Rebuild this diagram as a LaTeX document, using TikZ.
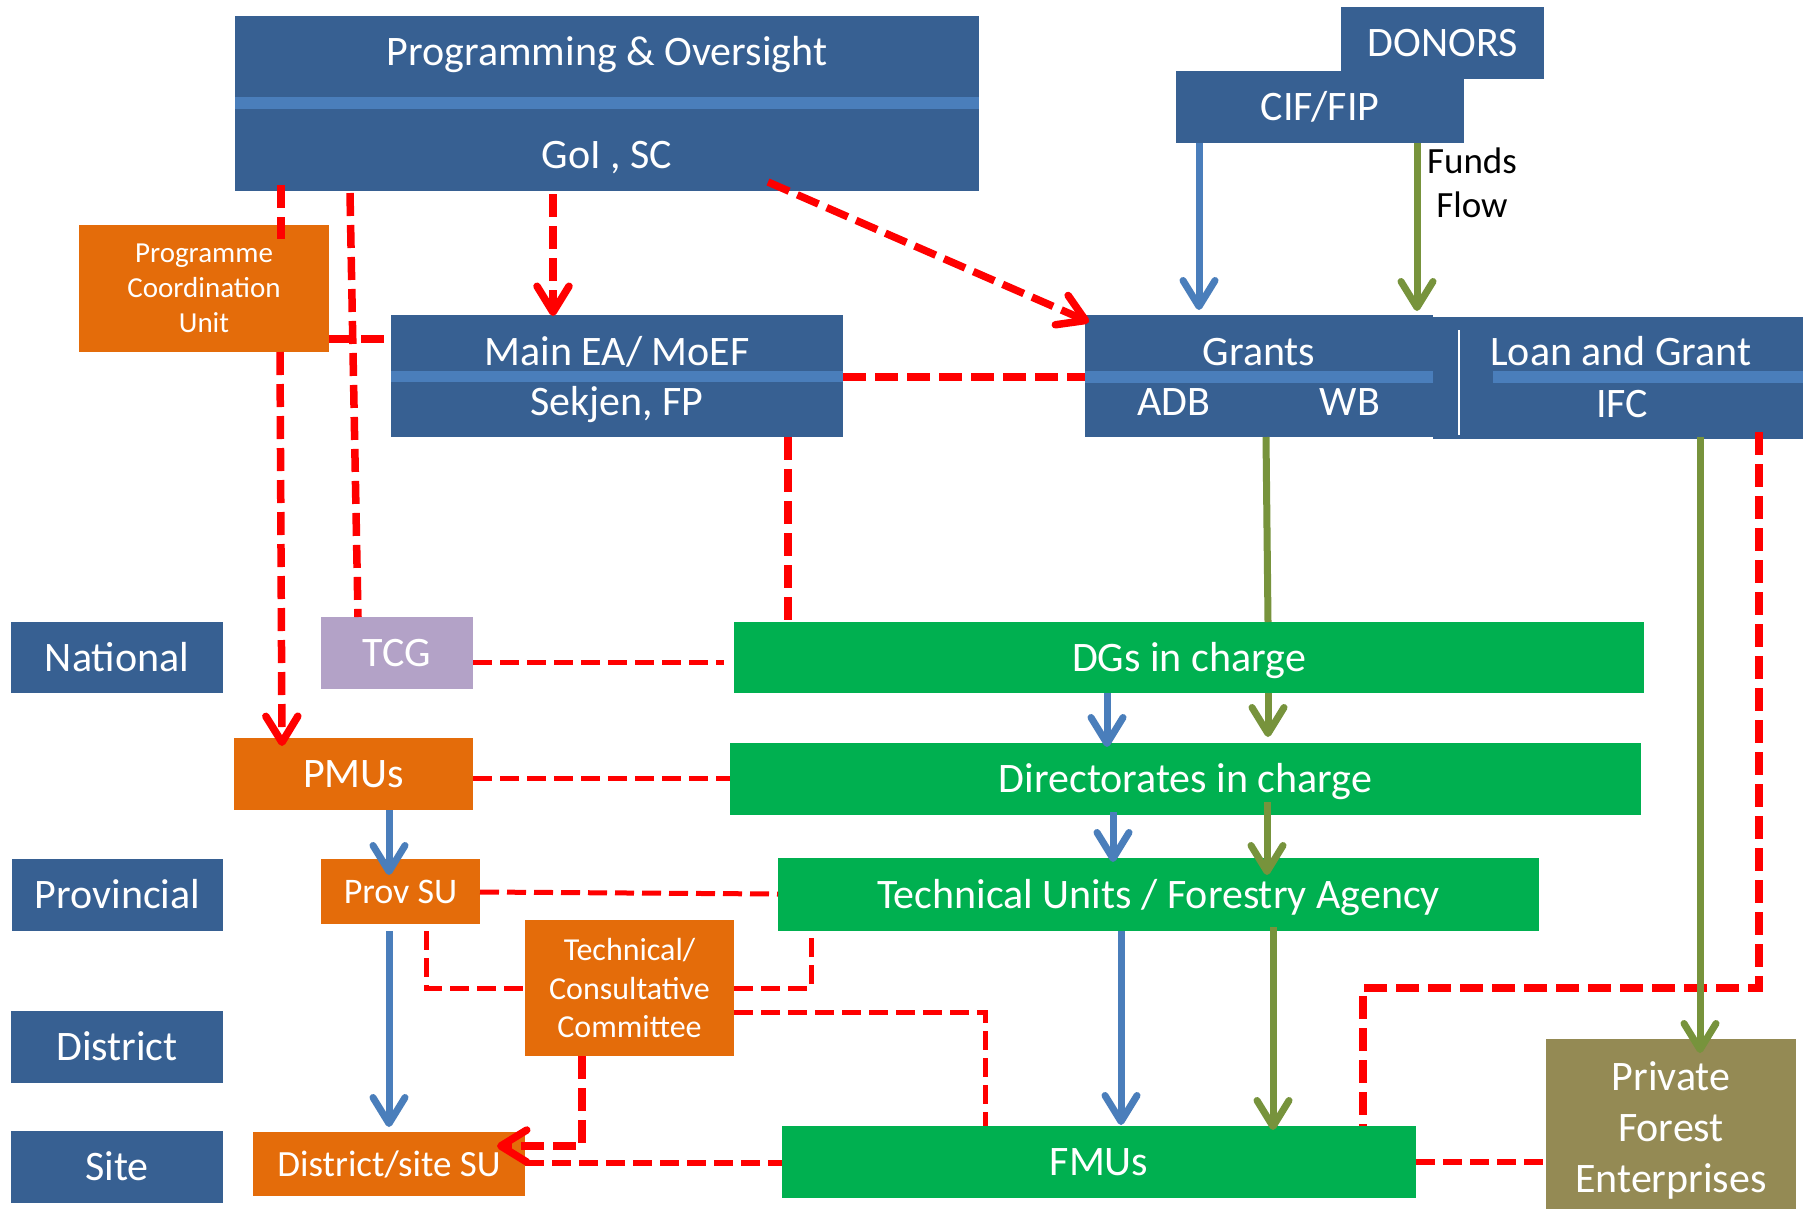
\documentclass[tikz,border=0pt]{standalone}
\usepackage{fontspec}
\setmainfont{Carlito}
\usetikzlibrary{arrows.meta}
\definecolor{boxblue}{HTML}{376092}
\definecolor{stripe}{HTML}{4A7EBB}
\definecolor{orng}{HTML}{E46C0A}
\definecolor{grn}{HTML}{00B050}
\definecolor{lav}{HTML}{B3A2C7}
\definecolor{olive}{HTML}{948A54}
\definecolor{arrowblue}{HTML}{4A7EBB}
\definecolor{arrowgreen}{HTML}{77933C}
\definecolor{rd}{HTML}{FF0000}
\begin{document}
\begin{tikzpicture}[x=1pt,y=-1pt,
  box/.style={anchor=north west, inner sep=0pt, outer sep=0pt, draw=none, text=white},
  one/.style={font=\fontsize{42}{50}\selectfont, text height=27pt, text depth=0pt},
  lbl/.style={anchor=base, inner sep=0pt, outer sep=0pt, text=white, font=\fontsize{42}{50}\selectfont},
  rthick/.style={draw=rd, line width=7.5pt, dash pattern=on 23pt off 9pt},
  rthin/.style={draw=rd, line width=5pt, dash pattern=on 19pt off 8pt},
  barb/.style={-{Straight Barb[length=26pt,width=32pt,round]}},
  bflow/.style={draw=arrowblue, line width=7pt, barb},
  gflow/.style={draw=arrowgreen, line width=7pt},
]
\useasboundingbox (0,0) rectangle (1803,1208);
\fill[white] (0,0) rectangle (1803,1208);

% ---------- top boxes ----------
\node[box, fill=boxblue, minimum width=744pt, minimum height=175pt] (prog) at (235,16) {};
\fill[stripe] (235,97) rectangle (979,109);
\node[lbl] (progA) at (607,65) {Programming \& Oversight};
\node[lbl] (progB) at (607,168) {GoI , SC};

\node[box, one, fill=boxblue, minimum width=203pt, minimum height=72pt] (donors) at (1341,7) {DONORS};
\node[box, one, fill=boxblue, minimum width=288pt, minimum height=72pt] (cif) at (1176,71) {CIF/FIP};
\node[anchor=base, inner sep=0pt, font=\fontsize{37}{44}\selectfont] (fundsA) at (1472,173) {Funds};
\node[anchor=base, inner sep=0pt, font=\fontsize{37}{44}\selectfont] (fundsB) at (1472,217) {Flow};

\node[box, fill=boxblue, minimum width=348pt, minimum height=122pt] (grants) at (1085,315) {};
\fill[stripe] (1085,371) rectangle (1433,383);
\node[lbl] (grantsA) at (1259,365) {Grants};
\node[lbl] (adb) at (1174,415) {ADB};
\node[lbl] (wb) at (1350,415) {WB};

\node[box, fill=boxblue, minimum width=370pt, minimum height=122pt] (loan) at (1433,317) {};
\fill[stripe] (1493,371) rectangle (1803,383);
\draw[white, line width=2.5pt] (1459,330) -- (1459,435);
\node[lbl] (loanA) at (1621,365) {Loan and Grant};
\node[lbl] (ifc) at (1622,417) {IFC};

\node[box, fill=orng, align=center, font=\fontsize{29}{35}\selectfont, minimum width=250pt, minimum height=127pt] (pcu) at (79,225) {Programme\\Coordination\\Unit};

\node[box, fill=boxblue, minimum width=452pt, minimum height=122pt] (mainea) at (391,315) {};
\fill[stripe] (391,371) rectangle (843,382);
\node[lbl] (maineaA) at (617,365) {Main EA/ MoEF};
\node[lbl] (maineaB) at (617,415) {Sekjen, FP};

% ---------- level labels ----------
\node[box, one, fill=boxblue, minimum width=212pt, minimum height=71pt] (national) at (11,622) {National};
\node[box, one, fill=boxblue, minimum width=211pt, minimum height=72pt] (provincial) at (12,859) {Provincial};
\node[box, one, fill=boxblue, minimum width=212pt, minimum height=72pt] (district) at (11,1011) {District};
\node[box, one, fill=boxblue, minimum width=212pt, minimum height=72pt] (site) at (11,1131) {Site};

% ---------- left column ----------
\node[box, one, fill=lav, minimum width=152pt, minimum height=72pt] (tcg) at (321,617) {TCG};
\node[box, one, fill=orng, minimum width=239pt, minimum height=72pt] (pmus) at (234,738) {PMUs};
\node[box, fill=orng, font=\fontsize{36}{44}\selectfont, text height=23pt, text depth=0pt, minimum width=159pt, minimum height=65pt] (provsu) at (321,859) {Prov SU};
\node[box, fill=orng, align=center, font=\fontsize{32}{38.5}\selectfont, minimum width=209pt, minimum height=136pt] (tcc) at (525,920) {Technical/\\Consultative\\Committee};
\node[box, fill=orng, font=\fontsize{37}{44}\selectfont, text height=24pt, text depth=0pt, minimum width=272pt, minimum height=64pt] (dsu) at (253,1132) {District/site SU};

% ---------- green column ----------
\node[box, one, fill=grn, minimum width=910pt, minimum height=71pt] (dgs) at (734,622) {DGs in charge};
\node[box, one, fill=grn, minimum width=911pt, minimum height=72pt] (dirs) at (730,743) {Directorates in charge};
\node[box, one, fill=grn, minimum width=761pt, minimum height=73pt] (tu) at (778,858) {Technical Units / Forestry Agency};
\node[box, one, fill=grn, minimum width=634pt, minimum height=72pt] (fmus) at (782,1126) {FMUs};
\node[box, fill=olive, align=center, font=\fontsize{42}{51}\selectfont, minimum width=250pt, minimum height=183pt] (pfe) at (1546,1039) {Private\\Forest\\Enterprises};

% ---------- red dashed connectors ----------
\draw[rthick] ([xshift=46pt,yshift=6pt]prog.south west) -- ([xshift=202pt,yshift=-14pt]pcu.north west);
\draw[rthick] ([xshift=115pt,yshift=-2pt]prog.south west) -- ([xshift=37pt]tcg.north west);
\draw[rthick, barb] ([xshift=318pt,yshift=-3pt]prog.south west) -- ([xshift=162pt,yshift=-1pt]mainea.north west);
\draw[rthick, barb] ([xshift=533pt,yshift=9pt]prog.south west) -- ([xshift=4pt,yshift=-7pt]grants.north west);
\draw[rthick] ([yshift=13pt]pcu.south east) -- ([yshift=98pt]mainea.south west);
\draw[rthick, barb] ([xshift=201pt]pcu.south west) -- ([xshift=48pt,yshift=-8pt]pmus.north west);
\draw[rthick] ([yshift=60pt]mainea.south east) -- ([yshift=60pt]grants.south west);
\draw[rthick] ([xshift=397pt]mainea.south west) -- ([xshift=54pt,yshift=-6pt]dgs.north west);
\draw[rthin] ([yshift=27pt]tcg.south east) -- ([xshift=-10pt,yshift=31pt]dgs.south west);
\draw[rthin] ([yshift=32pt]pmus.south east) -- ([yshift=37pt]dirs.south west);
\draw[rthin] ([yshift=32pt]provsu.south east) -- ([yshift=37pt]tu.south west);
\draw[rthin] ([xshift=105pt,yshift=-7pt]provsu.south west) |- (tcc.west);
\draw[rthin] (tcc.east) -| ([xshift=33pt]tu.south west);
\draw[rthin] ([yshift=44pt]tcc.south east) -| ([xshift=203pt]fmus.north west);
\draw[rthick, barb] ([xshift=57pt]tcc.south west) |- ([xshift=-28pt,yshift=50pt]dsu.south east);
\draw[rthin, line width=6pt] ([yshift=33pt]dsu.south east) -- ([yshift=35pt]fmus.south west);
\draw[rthin, line width=6pt] ([yshift=36pt]fmus.south east) -- ([yshift=-123pt]pfe.north west);
\draw[rthick] ([xshift=-44pt,yshift=7pt]loan.south east) -- ++(0,556) -| ([xshift=581pt]fmus.north west);

% ---------- blue flows ----------
\draw[bflow] ([xshift=23pt]cif.south west) -- ([xshift=114pt,yshift=5pt]grants.north west);
\draw[bflow] ([xshift=373pt]dgs.south west) -- ([xshift=377pt,yshift=-4pt]dirs.north west);
\draw[bflow] ([xshift=383pt,yshift=3pt]dirs.south west) -- ([xshift=335pt,yshift=-4pt]tu.north west);
\draw[bflow] ([xshift=155pt]pmus.south west) -- ([xshift=68pt,yshift=-16pt]provsu.north west);
\draw[bflow] ([xshift=68pt,yshift=-7pt]provsu.south west) -- ([xshift=136pt,yshift=5pt]dsu.north west);
\draw[bflow] ([xshift=343pt]tu.south west) -- ([xshift=339pt,yshift=1pt]fmus.north west);

% ---------- green flows ----------
\draw[gflow, barb] ([xshift=241pt]cif.south west) -- ([xshift=332pt,yshift=4pt]grants.north west);
\draw[gflow] ([xshift=181pt]grants.south west) -- ([xshift=534pt]dgs.north west);
\draw[gflow, barb] ([xshift=534pt]dgs.south west) -- ([xshift=538pt,yshift=6pt]dirs.north west);
\draw[gflow, barb] ([xshift=537pt,yshift=13pt]dirs.south west) -- ([xshift=489pt,yshift=-17pt]tu.north west);
\draw[gflow, barb] ([xshift=495pt,yshift=4pt]tu.south west) -- ([xshift=491pt,yshift=-4pt]fmus.north west);
\draw[gflow, barb] ([xshift=267pt,yshift=2pt]loan.south west) -- ([xshift=154pt,yshift=-14pt]pfe.north west);
\end{tikzpicture}
\end{document}
